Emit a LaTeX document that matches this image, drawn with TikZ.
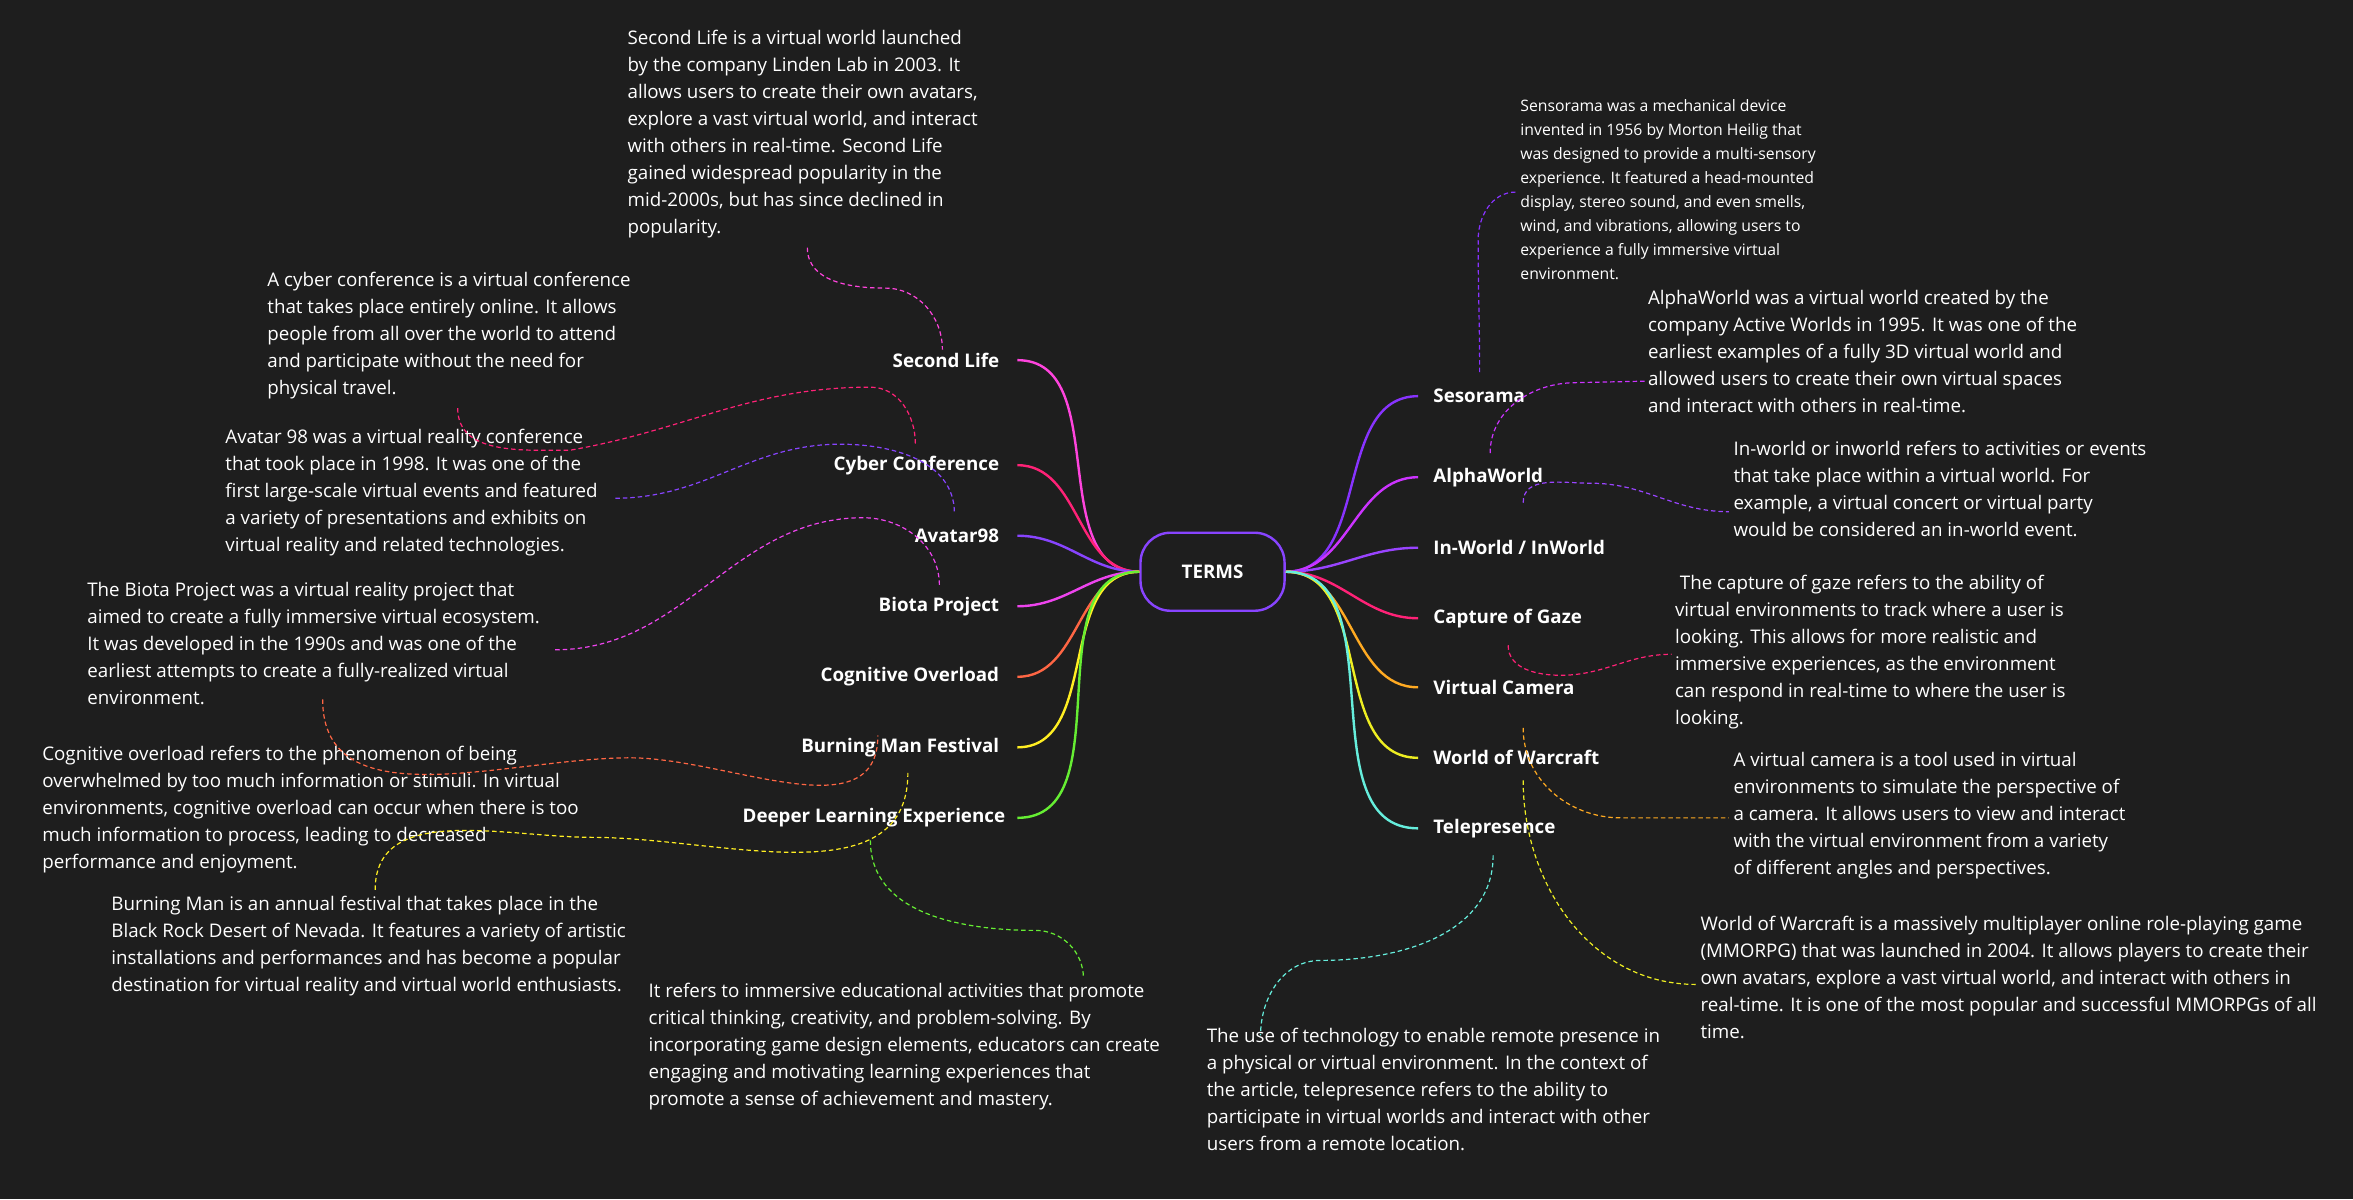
\documentclass[tikz,border=0pt]{standalone}
\usepackage{fontspec}
\setmainfont{Open Sans}
\definecolor{bg}{HTML}{1E1E1E}
\definecolor{cSL}{HTML}{FF44DD}
\definecolor{cCC}{HTML}{FF2277}
\definecolor{cAV}{HTML}{8844FF}
\definecolor{cBP}{HTML}{EE44EE}
\definecolor{cCO}{HTML}{FF6644}
\definecolor{cBM}{HTML}{FFEE22}
\definecolor{cDL}{HTML}{66EE33}
\definecolor{cSE}{HTML}{8833FF}
\definecolor{cAW}{HTML}{CC33FF}
\definecolor{cIW}{HTML}{9944FF}
\definecolor{cCG}{HTML}{FF2277}
\definecolor{cVC}{HTML}{FFAA22}
\definecolor{cWW}{HTML}{EEEE22}
\definecolor{cTP}{HTML}{66EEDD}

\begin{document}
\begin{tikzpicture}[x=1pt, y=-1pt,
	desc/.style={anchor=north west, align=left, text=white, inner sep=0pt, font=\fontsize{12.5}{18}\selectfont},
	lterm/.style={anchor=east, text=white, inner sep=2pt, font=\fontsize{12.5}{15}\selectfont\bfseries},
	rterm/.style={anchor=west, text=white, inner sep=2pt, font=\fontsize{12.5}{15}\selectfont\bfseries},
	branch/.style={line width=1.6pt},
	link/.style={dashed, line width=0.8pt, dash pattern=on 3pt off 2pt}]
	\fill[bg] (0,0) rectangle (1568,799);
	\useasboundingbox (0,0) rectangle (1568,799);

	\node (terms) at (808,381) [draw=cAV, line width=1.6pt, rounded corners=20pt, minimum width=96pt, minimum height=52pt, text=white, font=\fontsize{12.5}{15}\selectfont\bfseries] {TERMS};

	% left terms
	\node (sl) at (668,240) [lterm] {Second Life};
	\node (cc) at (668,310) [lterm] {Cyber Conference};
	\node (av) at (668,357) [lterm] {Avatar98};
	\node (bp) at (668,404) [lterm] {Biota Project};
	\node (co) at (668,451) [lterm] {Cognitive Overload};
	\node (bm) at (668,498) [lterm] {Burning Man Festival};
	\node (dl) at (672,545) [lterm] {Deeper Learning Experience};
	\draw[branch, cSL] (terms.west) to[out=180, in=0] ([xshift=10pt]sl.east);
	\draw[branch, cCC] (terms.west) to[out=180, in=0] ([xshift=10pt]cc.east);
	\draw[branch, cAV] (terms.west) to[out=180, in=0] ([xshift=10pt]av.east);
	\draw[branch, cBP] (terms.west) to[out=180, in=0] ([xshift=10pt]bp.east);
	\draw[branch, cCO] (terms.west) to[out=180, in=0] ([xshift=10pt]co.east);
	\draw[branch, cBM] (terms.west) to[out=180, in=0] ([xshift=10pt]bm.east);
	\draw[branch, cDL] (terms.west) to[out=180, in=0] ([xshift=6pt]dl.east);

	% right terms
	\node (se) at (953,264) [rterm] {Sesorama};
	\node (aw) at (953,318) [rterm] {AlphaWorld};
	\node (iw) at (953,365) [rterm] {In-World / InWorld};
	\node (cg) at (953,412) [rterm] {Capture of Gaze};
	\node (vc) at (953,458) [rterm] {Virtual Camera};
	\node (ww) at (953,505) [rterm] {World of Warcraft};
	\node (tp) at (953,552) [rterm] {Telepresence};
	\draw[branch, cSE] (terms.east) to[out=0, in=180] ([xshift=-8pt]se.west);
	\draw[branch, cAW] (terms.east) to[out=0, in=180] ([xshift=-8pt]aw.west);
	\draw[branch, cIW] (terms.east) to[out=0, in=180] ([xshift=-8pt]iw.west);
	\draw[branch, cCG] (terms.east) to[out=0, in=180] ([xshift=-8pt]cg.west);
	\draw[branch, cVC] (terms.east) to[out=0, in=180] ([xshift=-8pt]vc.west);
	\draw[branch, cWW] (terms.east) to[out=0, in=180] ([xshift=-8pt]ww.west);
	\draw[branch, cTP] (terms.east) to[out=0, in=180] ([xshift=-8pt]tp.west);

	% descriptions
	\node (slD) at (418,20) [desc] {Second Life is a virtual world launched\\by the company Linden Lab in 2003. It\\allows users to create their own avatars,\\explore a vast virtual world, and interact\\with others in real-time. Second Life\\gained widespread popularity in the\\mid-2000s, but has since declined in\\popularity.};
	\node (ccD) at (178,181) [desc] {A cyber conference is a virtual conference\\that takes place entirely online. It allows\\people from all over the world to attend\\and participate without the need for\\physical travel.};
	\node (avD) at (150,286) [desc] {Avatar 98 was a virtual reality conference\\that took place in 1998. It was one of the\\first large-scale virtual events and featured\\a variety of presentations and exhibits on\\virtual reality and related technologies.};
	\node (bpD) at (58,388) [desc] {The Biota Project was a virtual reality project that\\aimed to create a fully immersive virtual ecosystem.\\It was developed in the 1990s and was one of the\\earliest attempts to create a fully-realized virtual\\environment.};
	\node (coD) at (28,497) [desc] {Cognitive overload refers to the phenomenon of being\\overwhelmed by too much information or stimuli. In virtual\\environments, cognitive overload can occur when there is too\\much information to process, leading to decreased\\performance and enjoyment.};
	\node (bmD) at (74,597) [desc] {Burning Man is an annual festival that takes place in the\\Black Rock Desert of Nevada. It features a variety of artistic\\installations and performances and has become a popular\\destination for virtual reality and virtual world enthusiasts.};
	\node (dlD) at (432,655) [desc] {It refers to immersive educational activities that promote\\critical thinking, creativity, and problem-solving. By\\incorporating game design elements, educators can create\\engaging and motivating learning experiences that\\promote a sense of achievement and mastery.};
	\node (seD) at (1013,66) [desc, font=\fontsize{10.5}{16}\selectfont] {Sensorama was a mechanical device\\invented in 1956 by Morton Heilig that\\was designed to provide a multi-sensory\\experience. It featured a head-mounted\\display, stereo sound, and even smells,\\wind, and vibrations, allowing users to\\experience a fully immersive virtual\\environment.};
	\node (awD) at (1098,193) [desc] {AlphaWorld was a virtual world created by the\\company Active Worlds in 1995. It was one of the\\earliest examples of a fully 3D virtual world and\\allowed users to create their own virtual spaces\\and interact with others in real-time.};
	\node (iwD) at (1155,294) [desc] {In-world or inworld refers to activities or events\\that take place within a virtual world. For\\example, a virtual concert or virtual party\\would be considered an in-world event.};
	\node (cgD) at (1116,383) [desc] {~The capture of gaze refers to the ability of\\virtual environments to track where a user is\\looking. This allows for more realistic and\\immersive experiences, as the environment\\can respond in real-time to where the user is\\looking.};
	\node (vcD) at (1155,501) [desc] {A virtual camera is a tool used in virtual\\environments to simulate the perspective of\\a camera. It allows users to view and interact\\with the virtual environment from a variety\\of different angles and perspectives.};
	\node (wwD) at (1133,610) [desc] {World of Warcraft is a massively multiplayer online role-playing game\\(MMORPG) that was launched in 2004. It allows players to create their\\own avatars, explore a vast virtual world, and interact with others in\\real-time. It is one of the most popular and successful MMORPGs of all\\time.};
	\node (tpD) at (804,685) [desc] {The use of technology to enable remote presence in\\a physical or virtual environment. In the context of\\the article, telepresence refers to the ability to\\participate in virtual worlds and interact with other\\users from a remote location.};

	% dashed links
	\coordinate (slE) at (538,165);
	\coordinate (ccE) at (305,272);
	\coordinate (avE) at (410,332);
	\coordinate (bpE) at (370,433);
	\coordinate (coE) at (215,466);
	\coordinate (bmE) at (250,593);
	\coordinate (dlE) at (722,652);
	\coordinate (seE) at (1010,128);
	\coordinate (awE) at (1096,254);
	\coordinate (iwE) at (1152,341);
	\coordinate (cgE) at (1114,436);
	\coordinate (vcE) at (1152,545);
	\coordinate (wwE) at (1130,656);
	\coordinate (tpE) at (840,690);
	\draw[link, cSL] (slE) to[out=-90, in=180] (590,192) to[out=0, in=90] (sl.north east -| 628,0);
	\draw[link, cCC] (ccE) to[out=-90, in=180] (380,300) to[out=10, in=180] (580,258) to[out=0, in=90] (610,296);
	\draw[link, cAV] (avE) to[out=0, in=180] (560,296) to[out=0, in=90] (636,342);
	\draw[link, cBP] (bpE) to[out=0, in=180] (575,345) to[out=0, in=90] (626,390);
	\draw[link, cCO] (coE) to[out=-90, in=180] (420,505) to[out=0, in=-90] (585,490);
	\draw[link, cBM] (bmE) to[out=90, in=180] (395,558) to[out=0, in=-90] (605,515);
	\draw[link, cDL] (580,560) to[out=-90, in=180] (690,620) to[out=0, in=90] (dlE);
	\draw[link, cSE] (986,248) to[out=90, in=-90] (985,160) to[out=90, in=180] (seE);
	\draw[link, cAW] (993,302) to[out=90, in=180] (1050,255) -- (awE);
	\draw[link, cIW] (1015,335) to[out=90, in=180] (1060,322) to[out=0, in=180] (iwE);
	\draw[link, cCG] (1005,430) to[out=-90, in=180] (1040,450) to[out=0, in=180] (cgE);
	\draw[link, cVC] (1015,485) to[out=-90, in=180] (1080,545) -- (vcE);
	\draw[link, cWW] (1015,520) to[out=-90, in=180] (wwE);
	\draw[link, cTP] (995,570) to[out=-90, in=0] (880,640) to[out=180, in=90] (tpE);
\end{tikzpicture}
\end{document}
